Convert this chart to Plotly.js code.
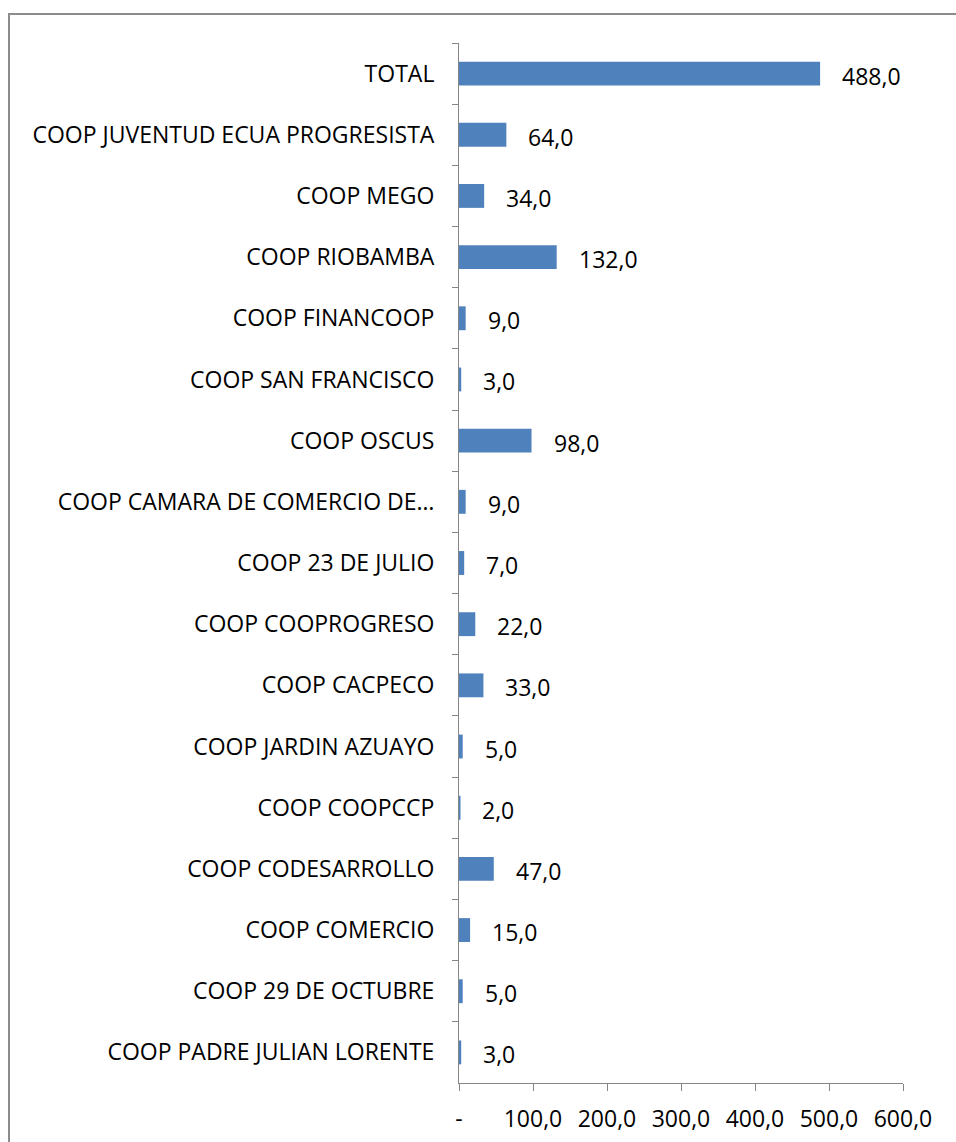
<!DOCTYPE html>
<html>
<head>
<meta charset="utf-8">
<script src="https://cdn.plot.ly/plotly-3.0.1.min.js"></script>
<style>
  body { margin:0; padding:0; background:#fff; }
  #wrap { position:relative; width:956px; height:1142px; overflow:hidden; }
  #frame { position:absolute; left:8px; top:13px; width:1000px; height:1200px; border:2px solid #8c8c8c; box-sizing:border-box; pointer-events:none; z-index:2; }
  #chart { position:absolute; left:0; top:0; width:956px; height:1142px; }
</style>
</head>
<body>
<div id="wrap">
  <div id="chart"></div>
  <div id="frame"></div>
</div>
<script>
const categories = [
  "TOTAL",
  "COOP JUVENTUD ECUA PROGRESISTA",
  "COOP MEGO",
  "COOP RIOBAMBA",
  "COOP FINANCOOP",
  "COOP SAN FRANCISCO",
  "COOP OSCUS",
  "COOP CAMARA DE COMERCIO DE…",
  "COOP 23 DE JULIO",
  "COOP COOPROGRESO",
  "COOP CACPECO",
  "COOP JARDIN AZUAYO",
  "COOP COOPCCP",
  "COOP CODESARROLLO",
  "COOP COMERCIO",
  "COOP 29 DE OCTUBRE",
  "COOP PADRE JULIAN LORENTE"
];
const values = [488, 64, 34, 132, 9, 3, 98, 9, 7, 22, 33, 5, 2, 47, 15, 5, 3];
const xTickVals = [0, 100, 200, 300, 400, 500, 600];
const xTickText = ["-", "100,0", "200,0", "300,0", "400,0", "500,0", "600,0"];

const FONT = "'Open Sans', sans-serif";
const FS = 23;
const fmt = v => v.toFixed(1).replace('.', ',');

const trace = {
  type: 'bar',
  orientation: 'h',
  x: values,
  y: categories,
  marker: { color: '#4F81BD', line: { color: '#4F81BD', width: 0 } },
  hoverinfo: 'skip'
};

const annotations = categories.map((c, i) => ({
  x: values[i], y: c, xref: 'x', yref: 'y',
  text: fmt(values[i]), showarrow: false,
  xanchor: 'left', yanchor: 'middle', xshift: 20, yshift: -2,
  font: { family: FONT, size: FS, color: '#000' }
}));

const layout = {
  width: 956, height: 1142,
  margin: { l: 459, r: 53, t: 43, b: 59 },
  paper_bgcolor: '#fff', plot_bgcolor: '#fff',
  showlegend: false,
  bargap: 0.61,
  font: { family: FONT, size: FS, color: '#000' },
  xaxis: {
    range: [0, 600], tickmode: 'array', tickvals: xTickVals, ticktext: xTickText,
    showgrid: false, zeroline: false, showline: true, linecolor: '#868686', linewidth: 1,
    ticks: 'outside', ticklen: 7, tickcolor: '#868686', tickwidth: 1,
    ticklabelstandoff: 8,
    tickfont: { family: FONT, size: FS, color: '#000' }, fixedrange: true
  },
  yaxis: {
    type: 'category', autorange: 'reversed',
    showgrid: false, zeroline: false, showline: true, linecolor: '#868686', linewidth: 1,
    ticks: 'outside', ticklen: 6, tickcolor: '#868686', tickwidth: 1, tickson: 'boundaries',
    ticklabelstandoff: 19,
    tickfont: { family: FONT, size: FS, color: '#000' }, fixedrange: true
  },
  annotations: annotations
};

Plotly.newPlot('chart', [trace], layout, { displayModeBar: false, staticPlot: true });
</script>
</body>
</html>
